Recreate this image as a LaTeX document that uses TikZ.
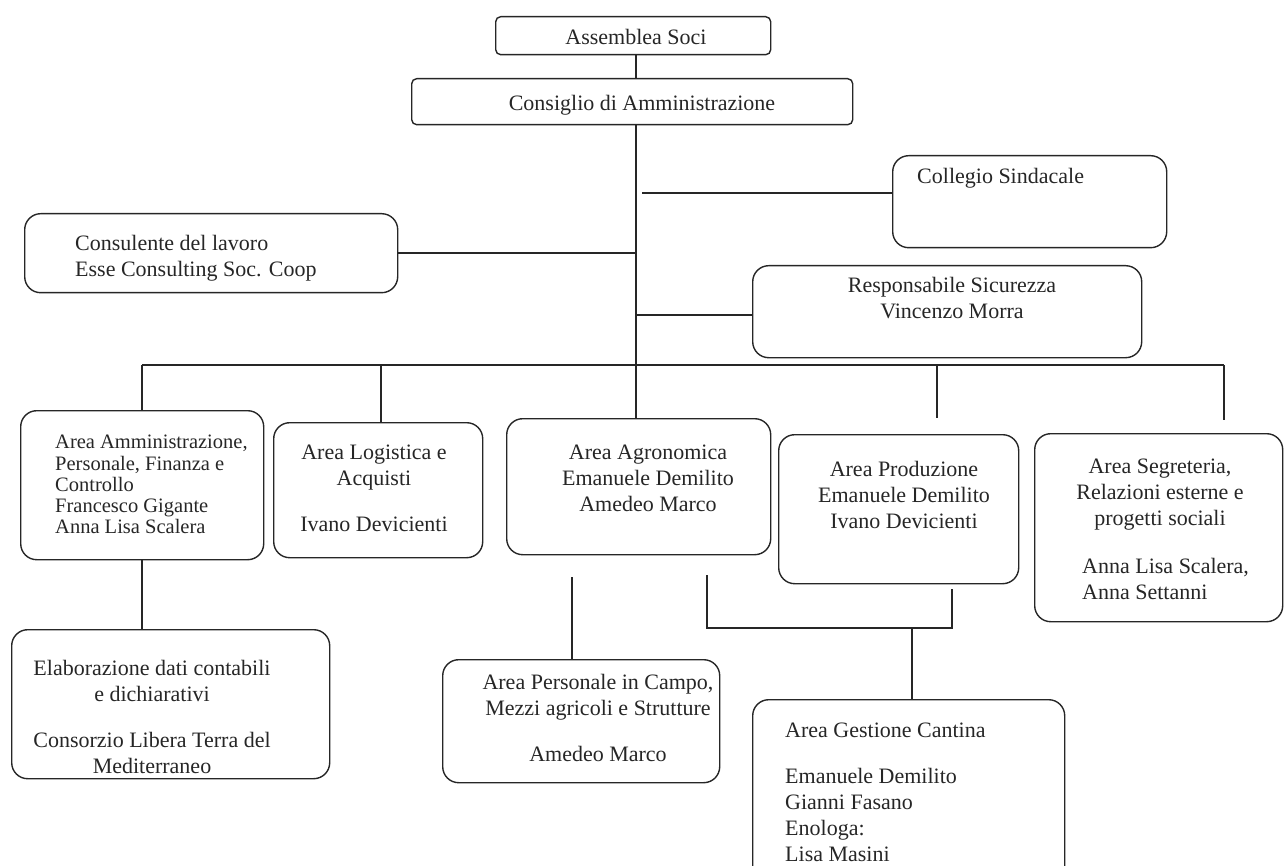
\documentclass[tikz,border=0pt]{standalone}
\usepackage{fontspec}
\setmainfont{Liberation Serif}
\begin{document}
\begin{tikzpicture}[x=1pt,y=-1pt,
  box/.style={draw=black!85, line width=1.4pt, rounded corners=16pt, inner sep=0pt, anchor=north west},
  sbox/.style={box, rounded corners=5pt},
  txt/.style={inner sep=0pt, font=\fontsize{22}{26}\selectfont, text=black!85},
  conn/.style={draw=black!85, line width=1.3pt}]
\useasboundingbox (0,0) rectangle (1284,866);
\clip (0,0) rectangle (1284,866);
% spine / bus reference coordinates
\coordinate (sp) at (636,0);
\coordinate (bus) at (0,365);
% boxes
\node[sbox, minimum width=275pt, minimum height=38pt] (assemblea) at (495,16) {};
\node[sbox, minimum width=441pt, minimum height=46pt] (consiglio) at (411,78) {};
\node[box, minimum width=274pt, minimum height=92pt] (collegio) at (892,155) {};
\node[box, minimum width=373pt, minimum height=79pt] (consulente) at (24,213) {};
\node[box, minimum width=389pt, minimum height=92pt] (responsabile) at (752,265) {};
\node[box, minimum width=243pt, minimum height=149pt] (admin) at (20,410) {};
\node[box, minimum width=209pt, minimum height=135pt] (logistica) at (273,422) {};
\node[box, minimum width=264pt, minimum height=136pt] (agronomica) at (506,418) {};
\node[box, minimum width=240pt, minimum height=149pt] (produzione) at (778,434) {};
\node[box, minimum width=248pt, minimum height=188pt] (segreteria) at (1034,433) {};
\node[box, minimum width=318pt, minimum height=149pt] (elaborazione) at (11,629) {};
\node[box, minimum width=277pt, minimum height=123pt] (personale) at (442,659) {};
\node[box, minimum width=312pt, minimum height=190pt] (cantina) at (752,699) {};
% texts
\node[txt, anchor=north] (tass) at (636,29) {Assemblea Soci};
\node[txt, anchor=north] (tcons) at (642,95) {Consiglio di Amministrazione};
\node[txt, anchor=north west] (tcol) at (917,168) {Collegio Sindacale};
\node[txt, anchor=north west, align=left] (tconsul) at (75,235) {Consulente del lavoro\\Esse Consulting Soc. Coop};
\node[txt, anchor=north, align=center] (tresp) at (952,277) {Responsabile Sicurezza\\Vincenzo Morra};
\node[txt, anchor=north west, align=left, font=\fontsize{20.5}{21.3}\selectfont] (tadmin) at (55,435) {Area Amministrazione,\\Personale, Finanza e\\Controllo\\Francesco Gigante\\Anna Lisa Scalera};
\node[txt, anchor=north, align=center] (tlog) at (374,445) {Area Logistica e\\Acquisti\\[20pt]Ivano Devicienti};
\node[txt, anchor=north, align=center] (tagr) at (648,445) {Area Agronomica\\Emanuele Demilito\\Amedeo Marco};
\node[txt, anchor=north, align=center] (tprod) at (904,461) {Area Produzione\\Emanuele Demilito\\Ivano Devicienti};
\node[txt, anchor=north, align=center] (tseg) at (1160,459) {Area Segreteria,\\Relazioni esterne e\\progetti sociali};
\node[txt, anchor=north west, align=left] (tseg2) at (1082,558) {Anna Lisa Scalera,\\Anna Settanni};
\node[txt, anchor=north, align=center] (telab) at (152,660) {Elaborazione dati contabili\\e dichiarativi\\[20pt]Consorzio Libera Terra del\\Mediterraneo};
\node[txt, anchor=north, align=center] (tpers) at (598,674) {Area Personale in Campo,\\Mezzi agricoli e Strutture\\[20pt]Amedeo Marco};
\node[txt, anchor=north west, align=left] (tcant) at (785,723) {Area Gestione Cantina\\[20pt]Emanuele Demilito\\Gianni Fasano\\Enologa:\\Lisa Masini};
% connectors
\draw[conn] (assemblea.south -| sp) -- (consiglio.north -| sp);
\draw[conn] (consiglio.south -| sp) -- (bus -| sp);
\coordinate (colL) at (642,193);
\draw[conn] (colL) -- (colL -| collegio.west);
\coordinate (cns) at (636,253);
\draw[conn] (cns) -- (cns -| consulente.east);
\coordinate (rsp) at (636,315);
\draw[conn] (rsp) -- (rsp -| responsabile.west);
\coordinate (busL) at (142,365);
\coordinate (busR) at (1224,365);
\draw[conn] (busL) -- (busR);
\draw[conn] (busL) -- (busL |- admin.north);
\coordinate (dlog) at (381,365);
\draw[conn] (dlog) -- (dlog |- logistica.north);
\draw[conn] (bus -| sp) -- (agronomica.north -| sp);
\coordinate (dprod) at (937,365);
\coordinate (dprodE) at (937,418);
\draw[conn] (dprod) -- (dprodE);
\coordinate (dseg) at (1224,420);
\draw[conn] (busR) -- (dseg);
\draw[conn] (admin.south -| busL) -- (elaborazione.north -| busL);
\coordinate (pa) at (572,577);
\draw[conn] (pa) -- (pa |- personale.north);
\coordinate (b1) at (707,575);
\coordinate (b2) at (707,628);
\coordinate (b3) at (952,628);
\coordinate (b4) at (952,589);
\draw[conn] (b1) -- (b2) -- (b3) -- (b4);
\coordinate (cj) at (912,628);
\draw[conn] (cj) -- (cj |- cantina.north);
\end{tikzpicture}
\end{document}
